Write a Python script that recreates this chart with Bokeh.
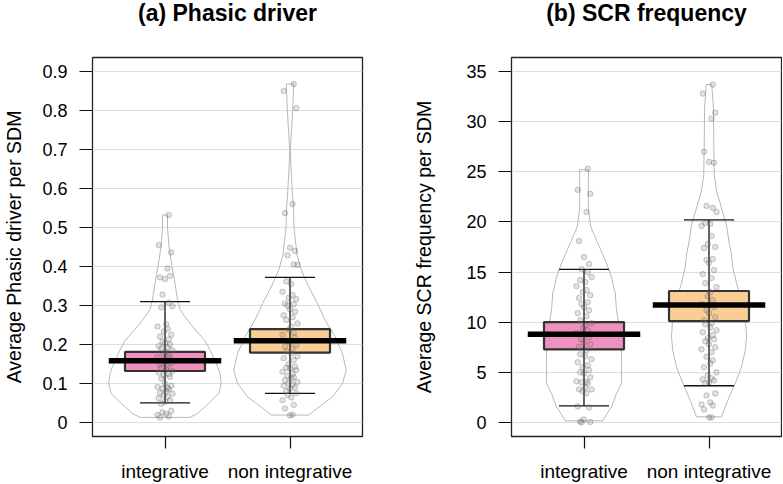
from bokeh.plotting import figure
from bokeh.layouts import row, column
from bokeh.models import Range1d, FixedTicker
from bokeh.core.properties import value
from bokeh.embed import file_html
from bokeh.resources import INLINE

# ---------------- data ----------------
group_labels = ["integrative", "non integrative"]
group_pos = [1, 2]
group_colors = ["#EE91BE", "#FBCD96"]

# Panel (a) Phasic driver
a_title = "(a) Phasic driver"
a_ylabel = "Average Phasic driver per SDM"
a_ticks = [0, 0.1, 0.2, 0.3, 0.4, 0.5, 0.6, 0.7, 0.8, 0.9]
a_tick_labels = ["0", "0.1", "0.2", "0.3", "0.4", "0.5", "0.6", "0.7", "0.8", "0.9"]
a_points_int = [0.532, 0.455, 0.436, 0.395, 0.372, 0.368, 0.376, 0.328, 0.307, 0.298, 0.295,
                0.252, 0.246, 0.240, 0.233, 0.225, 0.220, 0.213, 0.207, 0.203, 0.200, 0.196,
                0.193, 0.190, 0.185, 0.180, 0.177, 0.172, 0.168, 0.165, 0.160, 0.156, 0.152,
                0.148, 0.144, 0.140, 0.136, 0.132, 0.128, 0.124, 0.121, 0.117, 0.113, 0.100,
                0.094, 0.091, 0.089, 0.087, 0.085, 0.080, 0.076, 0.074, 0.070, 0.066, 0.062,
                0.057, 0.053, 0.048, 0.030, 0.026, 0.022, 0.019, 0.016, 0.013]
a_points_non = [0.868, 0.850, 0.806, 0.560, 0.537, 0.448, 0.440, 0.429, 0.405, 0.404,
                0.362, 0.355, 0.335, 0.327, 0.320, 0.316, 0.305, 0.303, 0.300, 0.290, 0.284,
                0.275, 0.270, 0.263, 0.254, 0.246, 0.238, 0.230, 0.225, 0.218, 0.210, 0.204,
                0.198, 0.195, 0.188, 0.182, 0.177, 0.170, 0.165, 0.160, 0.150, 0.143, 0.140,
                0.138, 0.134, 0.130, 0.125, 0.120, 0.116, 0.113, 0.108, 0.104, 0.100, 0.097,
                0.094, 0.090, 0.086, 0.080, 0.075, 0.070, 0.064, 0.057, 0.045, 0.036, 0.020, 0.018]
a_mean = [0.158, 0.2095]
a_box_lo = [0.132, 0.179]
a_box_hi = [0.181, 0.2395]
a_whisk_lo = [0.050, 0.0744]
a_whisk_hi = [0.310, 0.372]
a_bean_y_int = [0.013, 0.023, 0.049, 0.074, 0.100, 0.125, 0.143, 0.165, 0.186, 0.210,
                0.228, 0.250, 0.271, 0.290, 0.314, 0.357, 0.400, 0.450, 0.500, 0.532]
a_bean_w_int = [0.20, 0.26, 0.35, 0.43, 0.45, 0.44, 0.42, 0.39, 0.36, 0.32,
                0.27, 0.21, 0.16, 0.12, 0.10, 0.08, 0.056, 0.032, 0.02, 0.02]
a_bean_y_non = [0.019, 0.032, 0.066, 0.100, 0.134, 0.177, 0.220, 0.263, 0.305, 0.348,
                0.391, 0.430, 0.500, 0.550, 0.592, 0.650, 0.700, 0.750, 0.806, 0.868]
a_bean_w_non = [0.15, 0.20, 0.34, 0.42, 0.45, 0.42, 0.36, 0.28, 0.22, 0.15,
                0.09, 0.056, 0.032, 0.028, 0.018, 0.008, 0.002, 0.012, 0.022, 0.03]

# Panel (b) SCR frequency
b_title = "(b) SCR frequency"
b_ylabel = "Average SCR frequency per SDM"
b_ticks = [0, 5, 10, 15, 20, 25, 30, 35]
b_tick_labels = ["0", "5", "10", "15", "20", "25", "30", "35"]
b_points_int = [25.3, 23.2, 22.8, 21.0, 18.1, 16.5, 15.8, 15.3, 15.0, 14.5, 14.2, 14.0, 13.6,
                13.2, 13.0, 12.7, 12.4, 12.0, 11.8, 11.5, 11.2, 10.9, 10.6, 10.2, 9.9, 9.7,
                9.4, 9.2, 8.9, 8.5, 8.3, 8.0, 7.8, 7.55, 7.2, 6.8, 6.6, 6.3, 6.0, 5.7, 5.5,
                5.2, 5.0, 4.9, 4.5, 4.1, 4.05, 4.0, 3.9, 3.5, 3.3, 3.3, 3.1, 2.9, 1.6, 1.5,
                0.3, 0.1, 0.05, 0.0]
b_points_non = [33.7, 32.8, 30.9, 30.3, 27.0, 26.0, 25.9, 21.6, 21.4, 21.0, 19.9, 19.8, 19.6,
                18.6, 17.8, 17.5, 17.4, 16.3, 16.2, 15.9, 15.2, 14.8, 14.4, 13.9, 13.5, 13.0,
                12.6, 12.2, 11.8, 11.5, 11.2, 10.9, 10.5, 10.2, 9.9, 9.8, 9.5, 9.2, 9.0, 8.7,
                8.4, 8.3, 8.1, 7.8, 7.5, 7.3, 7.0, 6.55, 6.2, 5.9, 5.5, 5.0, 4.7, 4.4, 4.3,
                4.2, 4.0, 3.9, 2.9, 2.7, 2.0, 1.8, 1.7, 1.3, 0.5, 0.5]
b_mean = [8.81, 11.71]
b_box_lo = [7.29, 10.11]
b_box_hi = [10.01, 13.11]
b_whisk_lo = [1.66, 3.66]
b_whisk_hi = [15.27, 20.2]
b_bean_y_int = [0.16, 0.8, 1.56, 2.2, 2.9, 3.9, 4.55, 5.55, 7.2, 8.9, 10.5, 11.2, 12.9,
                13.9, 14.5, 16.2, 17.9, 19.5, 21.2, 22.9, 25.2]
b_bean_w_int = [0.15, 0.18, 0.22, 0.24, 0.26, 0.30, 0.30, 0.30, 0.30, 0.29, 0.27, 0.26,
                0.25, 0.23, 0.22, 0.17, 0.11, 0.054, 0.036, 0.034, 0.036]
b_bean_y_non = [0.56, 2.2, 3.9, 5.55, 7.2, 8.55, 10.5, 12.2, 13.9, 15.5, 16.7, 18.0, 19.7,
                21.4, 23.0, 24.7, 28.0, 31.3, 33.7]
b_bean_w_non = [0.10, 0.15, 0.21, 0.26, 0.29, 0.30, 0.29, 0.26, 0.22, 0.19, 0.18, 0.16,
                0.14, 0.10, 0.062, 0.042, 0.038, 0.036, 0.022]

# horizontal jitter of the points (in category units)
jitter = [0.03, -0.05, 0.05, 0.02, -0.04, 0.00, 0.04, -0.02, 0.03, 0.06, -0.03, 0.01,
          -0.06, 0.02, -0.01, 0.05, -0.04, 0.03, -0.02, 0.00, 0.04, -0.05, 0.02, -0.03,
          0.06, 0.01, -0.01, 0.03, -0.06, 0.04, -0.02, 0.00, 0.05, -0.04, 0.02, -0.03,
          0.01, 0.06, -0.05, 0.03, -0.01, 0.04, -0.03, 0.00, 0.05, -0.06, 0.02, -0.02,
          0.03, 0.01, -0.04, 0.06, -0.01, 0.02, -0.05, 0.04, 0.00, -0.03, 0.05, -0.02,
          0.01, -0.06, 0.03, -0.04, 0.02, 0.00, 0.04, -0.01]

FONT = "Liberation Sans"
BOX_HALF = 0.32
MEAN_HALF = 0.45
CAP_HALF = 0.2
FRAME_W = 270
FRAME_H = 379
TITLE_H = 30


def make_title(text, width):
    # the column aligns this figure's frame with the panel's frame below it
    t = figure(width=width, height=TITLE_H, x_range=Range1d(0, 1),
               y_range=Range1d(TITLE_H, 0), x_axis_type=None, y_axis_type=None,
               output_backend="svg", toolbar_location=None, min_border=0)
    t.outline_line_color = None
    t.grid.visible = False
    t.background_fill_color = "white"
    t.border_fill_color = "white"
    t.text(x=[0.5], y=[12], text=[text], text_font=value(FONT),
           text_font_size=value("23px"), text_font_style="bold", text_color="black",
           text_align="center", text_baseline="middle")
    return t


def make_panel(ylabel, ticks, tick_labels, yr, points, means, box_lo, box_hi,
               wlo, whi, beans, mb_left, mb_right, label_standoff):
    p = figure(frame_width=FRAME_W, frame_height=FRAME_H, x_range=Range1d(0.42, 2.58),
               y_range=Range1d(*yr),
               output_backend="svg", toolbar_location=None,
               min_border_left=mb_left, min_border_right=mb_right,
               min_border_top=27, min_border_bottom=47)
    p.outline_line_color = "#222222"
    p.outline_line_width = 1.3
    p.background_fill_color = "white"
    p.border_fill_color = "white"

    p.xgrid.visible = False
    p.ygrid.ticker = FixedTicker(ticks=ticks)
    p.ygrid.grid_line_color = "#DDDDDD"
    p.ygrid.grid_line_width = 1

    for ax in (p.xaxis[0], p.yaxis[0]):
        ax.axis_line_color = None
        ax.major_tick_in = 0
        ax.minor_tick_line_color = None
        ax.major_tick_line_color = "#111111"
        ax.major_tick_line_width = 1.2
        ax.major_label_text_font = FONT
        ax.major_label_text_color = "black"

    p.yaxis.ticker = FixedTicker(ticks=ticks)
    p.yaxis.major_label_overrides = {t: s for t, s in zip(ticks, tick_labels)}
    p.yaxis.major_tick_out = 13
    p.yaxis.major_label_standoff = 12
    p.yaxis.major_label_text_font_size = "18px"
    p.yaxis.axis_label = ylabel
    p.yaxis.axis_label_text_font = FONT
    p.yaxis.axis_label_text_font_size = "19.5px"
    p.yaxis.axis_label_text_font_style = "normal"
    p.yaxis.axis_label_text_color = "black"
    p.yaxis.axis_label_standoff = label_standoff

    p.xaxis.ticker = FixedTicker(ticks=group_pos)
    p.xaxis.major_label_overrides = {g: s for g, s in zip(group_pos, group_labels)}
    p.xaxis.major_tick_out = 12
    p.xaxis.major_label_standoff = 12
    p.xaxis.major_label_text_font_size = "19px"

    for i, pos in enumerate(group_pos):
        by, bw = beans[i]
        xs = [pos + w for w in bw] + [pos - w for w in reversed(bw)]
        ys = list(by) + list(reversed(by))
        p.patch(xs, ys, fill_color=None, line_color="#B8B8B8", line_width=1)

        p.quad(left=[pos - BOX_HALF], right=[pos + BOX_HALF], bottom=[box_lo[i]], top=[box_hi[i]],
               fill_color=group_colors[i], fill_alpha=1.0, line_color="#333333", line_width=2.2)

        p.segment(x0=[pos, pos - CAP_HALF, pos - CAP_HALF], y0=[wlo[i], wlo[i], whi[i]],
                  x1=[pos, pos + CAP_HALF, pos + CAP_HALF], y1=[whi[i], wlo[i], whi[i]],
                  line_color="#111111", line_width=1.3)

        pts = points[i]
        px = [pos + jitter[k % len(jitter)] for k in range(len(pts))]
        p.scatter(px, pts, size=5.5, fill_color="#7A7A7A", fill_alpha=0.22,
                  line_color="#555555", line_alpha=0.3, line_width=1)

        p.segment(x0=[pos - MEAN_HALF], y0=[means[i]], x1=[pos + MEAN_HALF], y1=[means[i]],
                  line_color="black", line_width=5.5, line_cap="butt")
    return p


A_LEFT, A_RIGHT = 92, 30
B_LEFT, B_RIGHT = 119, 1

pa = make_panel(a_ylabel, a_ticks, a_tick_labels, (-0.036, 0.936),
                [a_points_int, a_points_non], a_mean, a_box_lo, a_box_hi, a_whisk_lo, a_whisk_hi,
                [(a_bean_y_int, a_bean_w_int), (a_bean_y_non, a_bean_w_non)],
                mb_left=A_LEFT, mb_right=A_RIGHT, label_standoff=14)
pb = make_panel(b_ylabel, b_ticks, b_tick_labels, (-1.4, 36.4),
                [b_points_int, b_points_non], b_mean, b_box_lo, b_box_hi, b_whisk_lo, b_whisk_hi,
                [(b_bean_y_int, b_bean_w_int), (b_bean_y_non, b_bean_w_non)],
                mb_left=B_LEFT, mb_right=B_RIGHT, label_standoff=28)

ta = make_title(a_title, A_LEFT + FRAME_W + A_RIGHT)
tb = make_title(b_title, B_LEFT + FRAME_W + B_RIGHT)

layout = row(column(ta, pa, spacing=0), column(tb, pb, spacing=0), spacing=0)
open("out.html", "w").write(file_html(layout, INLINE))
